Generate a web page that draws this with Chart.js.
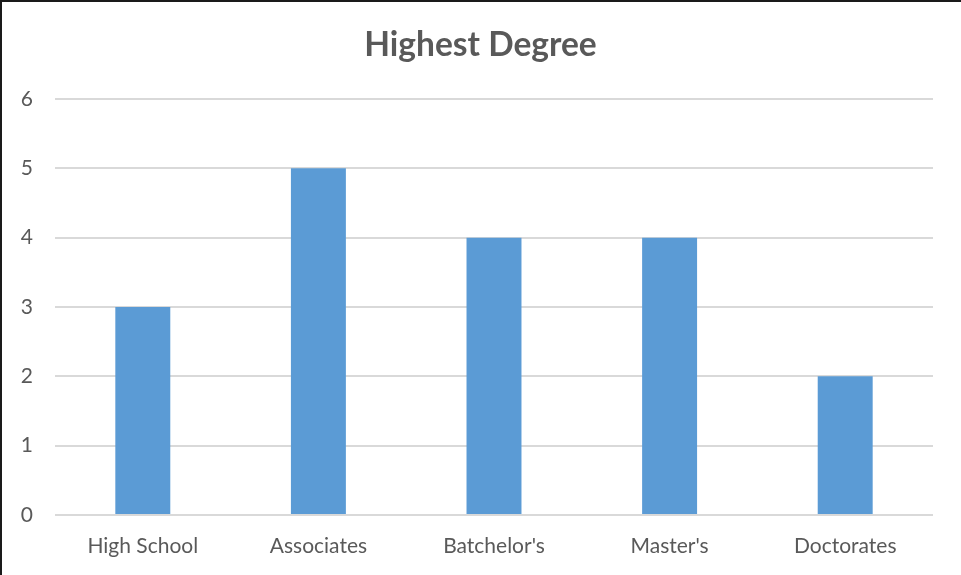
<!DOCTYPE html>
<html>
<head>
<meta charset="utf-8">
<script src="https://cdn.jsdelivr.net/npm/chart.js@4"></script>
<style>
  html, body { margin: 0; padding: 0; background: #fff; }
  #wrap { position: relative; width: 961px; height: 575px; }
  canvas { display: block; }
</style>
</head>
<body>
<div id="wrap"><canvas id="c" width="961" height="575"></canvas></div>
<script>
const categories = ["High School", "Associates", "Batchelor's", "Master's", "Doctorates"];
const counts = [3, 5, 4, 4, 2];
const yTicks = [0, 1, 2, 3, 4, 5, 6];
const chartTitle = "Highest Degree";

const textColor = '#595959';
const fontFamily = 'Lato, "Open Sans", "Liberation Sans", sans-serif';

const borderPlugin = {
  id: 'frame',
  afterDraw(chart) {
    const ctx = chart.ctx;
    ctx.save();
    ctx.fillStyle = '#1a1a1a';
    ctx.fillRect(0, 0, chart.width, 2);
    ctx.fillRect(0, 0, 2, chart.height);
    ctx.restore();
  }
};

new Chart(document.getElementById('c'), {
  type: 'bar',
  data: {
    labels: categories,
    datasets: [{
      data: counts,
      backgroundColor: '#5B9BD5',
      borderWidth: 0,
      barPercentage: 0.313,
      categoryPercentage: 1.0
    }]
  },
  options: {
    responsive: false,
    animation: false,
    devicePixelRatio: 1,
    layout: { padding: { left: 0, right: 0, top: 0, bottom: 0 } },
    plugins: {
      legend: { display: false },
      tooltip: { enabled: false },
      title: {
        display: true,
        text: chartTitle,
        color: textColor,
        font: { family: fontFamily, size: 33.5, weight: 'bold', lineHeight: 1.2 },
        padding: { top: 25, bottom: 33.8 }
      }
    },
    scales: {
      x: {
        grid: { display: false, drawTicks: false },
        border: { display: false },
        ticks: { color: textColor, font: { family: fontFamily, size: 21 }, padding: 19, maxRotation: 0 },
        afterFit(scale) { scale.height = 60; }
      },
      y: {
        min: 0,
        max: 6,
        afterBuildTicks(scale) { scale.ticks = yTicks.map(v => ({ value: v })); },
        grid: { color: '#D9D9D9', lineWidth: 2, drawTicks: false },
        border: { display: false },
        ticks: { color: textColor, font: { family: fontFamily, size: 21 }, padding: 22 },
        afterFit(scale) { scale.width = 55; }
      },
      yRight: {
        position: 'right',
        min: 0,
        max: 6,
        grid: { display: false, drawTicks: false },
        border: { display: false },
        ticks: { display: false },
        afterFit(scale) { scale.width = 28; }
      }
    }
  },
  plugins: [borderPlugin]
});
</script>
</body>
</html>
